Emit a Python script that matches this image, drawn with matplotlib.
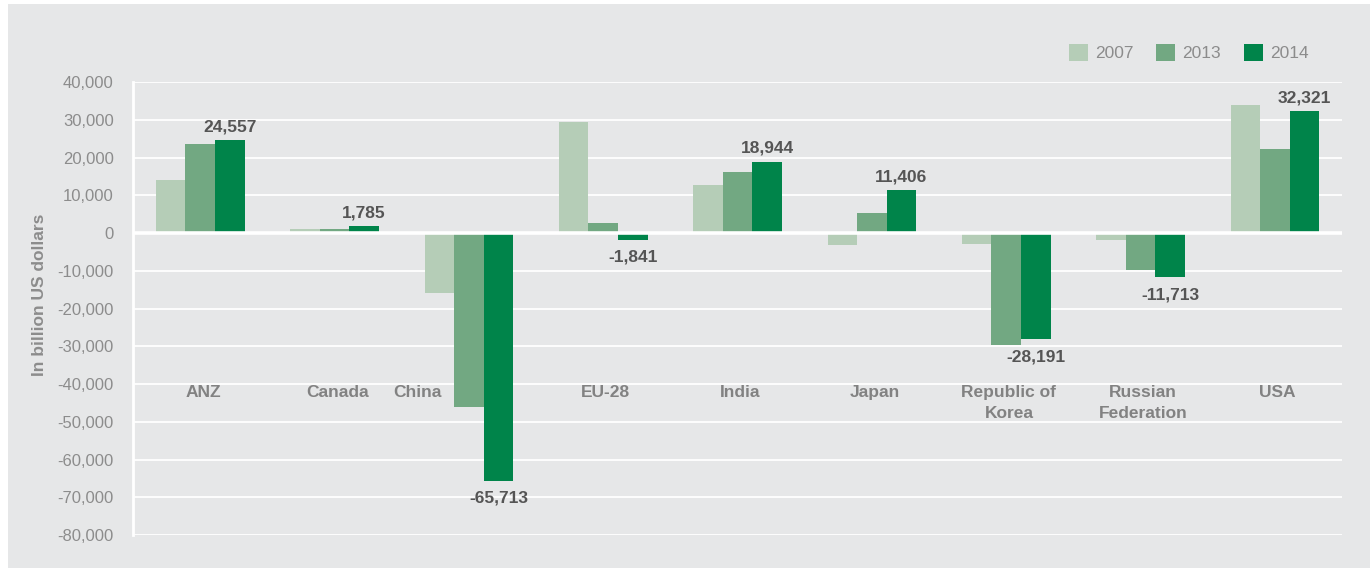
import matplotlib
matplotlib.use("Agg")
import matplotlib.pyplot as plt
import numpy as np
from matplotlib.patches import Rectangle

plt.rcParams['font.family'] = ['Liberation Sans', 'DejaVu Sans']

# data (billion US dollars)
countries = ['ANZ', 'Canada', 'China', 'EU-28', 'India', 'Japan',
             'Republic of\nKorea', 'Russian\nFederation', 'USA']
years = ['2007', '2013', '2014']
v2007 = [14100, 1100, -15900, 29300, 12600, -3200, -2900, -1800, 33800]
v2013 = [23700, 1100, -46100, 2600, 16200, 5300, -29600, -9900, 22200]
v2014 = [24557, 1785, -65713, -1841, 18944, 11406, -28191, -11713, 32321]
yticks = list(range(-80000, 40001, 10000))

colors = ['#b5cdb7', '#72a882', '#00844a']

fig = plt.figure(figsize=(13.7, 5.68), dpi=100)
fig.patch.set_facecolor('white')
fig.patches.append(Rectangle((8 / 1370, 0), 1, 1 - 4 / 568, transform=fig.transFigure,
                             facecolor='#e6e7e8', edgecolor='none', zorder=-10))

ax = fig.add_axes([0.0971, 0.0581, 0.8825, 0.7975])
ax.set_facecolor('none')

x = np.arange(len(countries))
w = 0.22
for k, (vals, yr) in enumerate(zip([v2007, v2013, v2014], years)):
    ax.bar(x + (k - 1) * w, vals, w, color=colors[k], label=yr, zorder=3)

# value labels on the 2014 bars
for xi, v in zip(x, v2014):
    if v >= 0:
        ax.text(xi + w, v + 1500, f'{v:,}', ha='center', va='bottom',
                fontsize=12.5, fontweight='bold', color='#555555', zorder=4)
    else:
        ax.text(xi + w, v - 2600, f'{v:,}', ha='center', va='top',
                fontsize=12.5, fontweight='bold', color='#555555', zorder=4)

# category labels sit inside the plot
for xi, name in zip(x, countries):
    xl = xi - 0.38 if name == 'China' else xi + 0.02
    ax.text(xl, -40300, name, ha='center', va='top', fontsize=12.5,
            fontweight='bold', color='#828282', linespacing=1.45, zorder=4)

ax.set_xlim(-0.5, len(countries) - 0.5)
ax.set_ylim(-80000, 40000)
ax.set_yticks(yticks)
ax.set_yticklabels([f'{t:,}' for t in yticks], fontsize=12, color='#8c8c8c')
ax.set_xticks([])
ax.tick_params(axis='y', length=0, pad=14)
ax.grid(axis='y', color='white', linewidth=1.3, zorder=1)
ax.axhline(0, color='white', linewidth=2.6, zorder=3.5)
for s in ['top', 'right', 'bottom']:
    ax.spines[s].set_visible(False)
ax.spines['left'].set_color('white')
ax.spines['left'].set_linewidth(2)

fig.text(40 / 1370, 1 - 295 / 568, 'In billion US dollars', rotation=90,
         ha='center', va='center', fontsize=12.5, fontweight='bold', color='#8c8c8c')

leg = ax.legend(loc='upper right', bbox_to_anchor=(0.985, 1.118), ncol=3, frameon=False,
                fontsize=12.5, handlelength=1.1, handleheight=1.1, handletextpad=0.4,
                columnspacing=1.3)
for t in leg.get_texts():
    t.set_color('#8c8c8c')

fig.savefig('out.png', dpi=100)
